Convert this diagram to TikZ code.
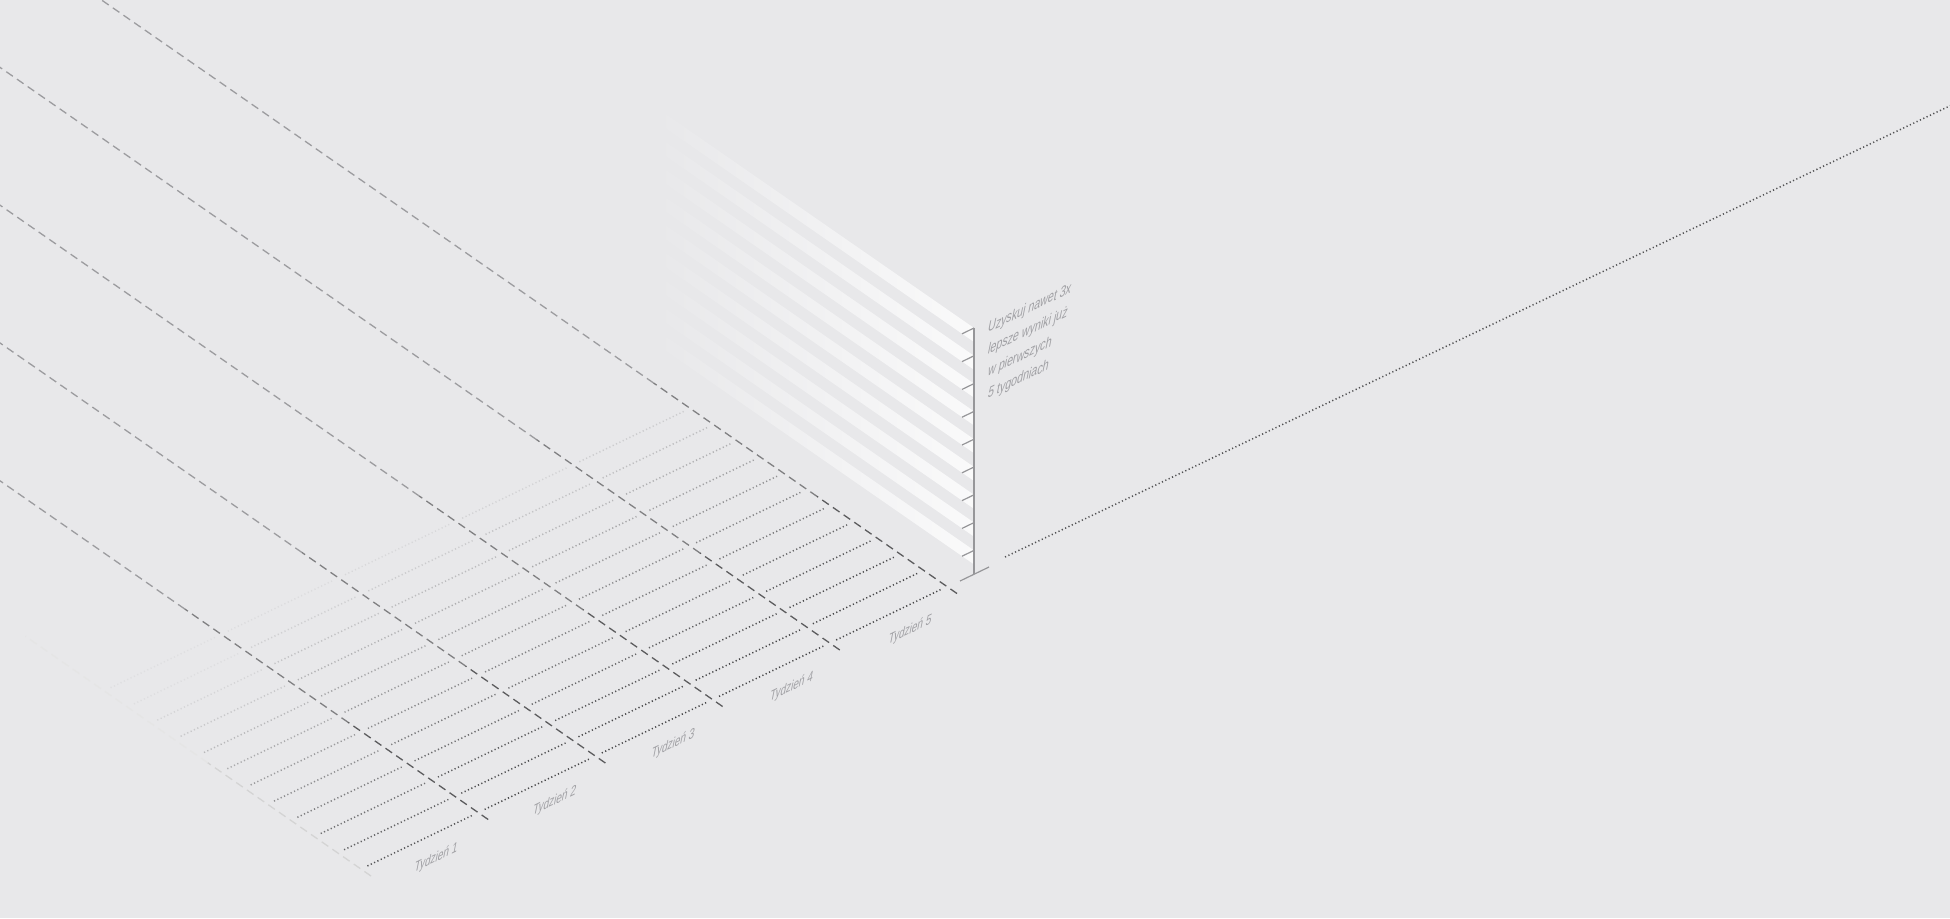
\documentclass[tikz,border=0pt]{standalone}
\usepackage{fontspec}
\usetikzlibrary{calc,fadings}
\newfontfamily\chartfont{Liberation Sans}[FakeStretch=0.74]
\definecolor{bgc}{RGB}{232,232,234}
\definecolor{inkc}{RGB}{62,62,64}
\definecolor{textc}{RGB}{160,160,164}
\definecolor{axisc}{RGB}{150,150,153}
\definecolor{darkdash}{RGB}{92,92,94}
\definecolor{middash}{RGB}{128,128,130}
\definecolor{lightdash}{RGB}{156,156,159}
\tikzset{
  row/.style={draw=inkc,line width=0.75pt,dash pattern=on 0.6pt off 1.25pt},
  weekline/.style={line width=0.65pt,dash pattern=on 4pt off 2.5pt},
  band/.style={fill=white,fill opacity=0.8,path fading=west},
  tick/.style={draw=axisc,line width=0.6pt},
  axisline/.style={draw=axisc,line width=1pt},
  weeklabel/.style={text=textc,inner sep=0pt,font=\chartfont\fontsize{7.5}{9}\selectfont,cm={0.9,0.435,0.2,1,(0,0)}},
  walltext/.style={text=textc,inner sep=0pt,anchor=base west,font=\chartfont\fontsize{8}{11}\selectfont,cm={0.9,0.435,0.2,1,(0,0)}}
}
\begin{document}
\begin{tikzpicture}[x=0.5pt,y=-0.5pt]
\useasboundingbox (0,0) rectangle (1950,918);
\fill[bgc] (0,0) rectangle (1950,918);
\clip (0,0) rectangle (1950,918);
\fill[band] (974,328) -- (974,342) -- (647,115.2) -- (647,101.2) -- cycle;
\fill[band] (974,355.8) -- (974,369.8) -- (647,143) -- (647,129) -- cycle;
\fill[band] (974,383.6) -- (974,397.6) -- (647,170.8) -- (647,156.8) -- cycle;
\fill[band] (974,411.4) -- (974,425.4) -- (647,198.6) -- (647,184.6) -- cycle;
\fill[band] (974,439.2) -- (974,453.2) -- (647,226.4) -- (647,212.4) -- cycle;
\fill[band] (974,467) -- (974,481) -- (647,254.2) -- (647,240.2) -- cycle;
\fill[band] (974,494.8) -- (974,508.8) -- (647,282) -- (647,268) -- cycle;
\fill[band] (974,522.6) -- (974,536.6) -- (647,309.8) -- (647,295.8) -- cycle;
\fill[band] (974,550.4) -- (974,564.4) -- (647,337.6) -- (647,323.6) -- cycle;
\begin{scope}[shift={(371,876)},x={(58.6pt,28.25pt)},y={(-11.675pt,8.1pt)}]
\draw[weekline,draw=black!17] (0,0) -- (0,7);
\draw[weekline,draw=black!10] (0,7) -- (0,14.8);
\draw[weekline,draw=darkdash] (1,0) -- (1,6);
\draw[weekline,draw=middash] (1,6) -- (1,13);
\draw[weekline,draw=lightdash] (1,13) -- (1,40);
\draw[weekline,draw=darkdash] (2,0) -- (2,6);
\draw[weekline,draw=middash] (2,6) -- (2,13);
\draw[weekline,draw=lightdash] (2,13) -- (2,40);
\draw[weekline,draw=darkdash] (3,0) -- (3,6);
\draw[weekline,draw=middash] (3,6) -- (3,13);
\draw[weekline,draw=lightdash] (3,13) -- (3,40);
\draw[weekline,draw=darkdash] (4,0) -- (4,6);
\draw[weekline,draw=middash] (4,6) -- (4,13);
\draw[weekline,draw=lightdash] (4,13) -- (4,40);
\draw[weekline,draw=darkdash] (5,0) -- (5,6);
\draw[weekline,draw=middash] (5,6) -- (5,13);
\draw[weekline,draw=lightdash] (5,13) -- (5,40);
\draw[row,draw opacity=.87] (0.055,0.43) -- (0.945,0.43);
\draw[row,draw opacity=.79] (0.055,1.43) -- (0.945,1.43);
\draw[row,draw opacity=.70] (0.055,2.43) -- (0.945,2.43);
\draw[row,draw opacity=.62] (0.055,3.43) -- (0.945,3.43);
\draw[row,draw opacity=.53] (0.055,4.43) -- (0.945,4.43);
\draw[row,draw opacity=.45] (0.055,5.43) -- (0.945,5.43);
\draw[row,draw opacity=.36] (0.055,6.43) -- (0.945,6.43);
\draw[row,draw opacity=.28] (0.055,7.43) -- (0.945,7.43);
\draw[row,draw opacity=.19] (0.055,8.43) -- (0.945,8.43);
\draw[row,draw opacity=.11] (0.055,9.43) -- (0.945,9.43);
\draw[row,draw opacity=.06] (0.055,10.43) -- (0.945,10.43);
\draw[row,draw opacity=.05] (0.055,11.43) -- (0.945,11.43);
\draw[row,draw opacity=.95] (1.055,0.43) -- (1.945,0.43);
\draw[row,draw opacity=.90] (1.055,1.43) -- (1.945,1.43);
\draw[row,draw opacity=.82] (1.055,2.43) -- (1.945,2.43);
\draw[row,draw opacity=.73] (1.055,3.43) -- (1.945,3.43);
\draw[row,draw opacity=.65] (1.055,4.43) -- (1.945,4.43);
\draw[row,draw opacity=.56] (1.055,5.43) -- (1.945,5.43);
\draw[row,draw opacity=.48] (1.055,6.43) -- (1.945,6.43);
\draw[row,draw opacity=.39] (1.055,7.43) -- (1.945,7.43);
\draw[row,draw opacity=.31] (1.055,8.43) -- (1.945,8.43);
\draw[row,draw opacity=.22] (1.055,9.43) -- (1.945,9.43);
\draw[row,draw opacity=.14] (1.055,10.43) -- (1.945,10.43);
\draw[row,draw opacity=.07] (1.055,11.43) -- (1.945,11.43);
\draw[row,draw opacity=.95] (2.055,0.43) -- (2.945,0.43);
\draw[row,draw opacity=.94] (2.055,1.43) -- (2.945,1.43);
\draw[row,draw opacity=.85] (2.055,2.43) -- (2.945,2.43);
\draw[row,draw opacity=.77] (2.055,3.43) -- (2.945,3.43);
\draw[row,draw opacity=.68] (2.055,4.43) -- (2.945,4.43);
\draw[row,draw opacity=.60] (2.055,5.43) -- (2.945,5.43);
\draw[row,draw opacity=.51] (2.055,6.43) -- (2.945,6.43);
\draw[row,draw opacity=.43] (2.055,7.43) -- (2.945,7.43);
\draw[row,draw opacity=.34] (2.055,8.43) -- (2.945,8.43);
\draw[row,draw opacity=.26] (2.055,9.43) -- (2.945,9.43);
\draw[row,draw opacity=.17] (2.055,10.43) -- (2.945,10.43);
\draw[row,draw opacity=.09] (2.055,11.43) -- (2.945,11.43);
\draw[row,draw opacity=.95] (3.055,0.43) -- (3.945,0.43);
\draw[row,draw opacity=.95] (3.055,1.43) -- (3.945,1.43);
\draw[row,draw opacity=.89] (3.055,2.43) -- (3.945,2.43);
\draw[row,draw opacity=.80] (3.055,3.43) -- (3.945,3.43);
\draw[row,draw opacity=.72] (3.055,4.43) -- (3.945,4.43);
\draw[row,draw opacity=.63] (3.055,5.43) -- (3.945,5.43);
\draw[row,draw opacity=.55] (3.055,6.43) -- (3.945,6.43);
\draw[row,draw opacity=.46] (3.055,7.43) -- (3.945,7.43);
\draw[row,draw opacity=.38] (3.055,8.43) -- (3.945,8.43);
\draw[row,draw opacity=.29] (3.055,9.43) -- (3.945,9.43);
\draw[row,draw opacity=.21] (3.055,10.43) -- (3.945,10.43);
\draw[row,draw opacity=.12] (3.055,11.43) -- (3.945,11.43);
\draw[row,draw opacity=.95] (4.055,0.43) -- (4.945,0.43);
\draw[row,draw opacity=.95] (4.055,1.43) -- (4.945,1.43);
\draw[row,draw opacity=.92] (4.055,2.43) -- (4.945,2.43);
\draw[row,draw opacity=.84] (4.055,3.43) -- (4.945,3.43);
\draw[row,draw opacity=.75] (4.055,4.43) -- (4.945,4.43);
\draw[row,draw opacity=.67] (4.055,5.43) -- (4.945,5.43);
\draw[row,draw opacity=.58] (4.055,6.43) -- (4.945,6.43);
\draw[row,draw opacity=.50] (4.055,7.43) -- (4.945,7.43);
\draw[row,draw opacity=.41] (4.055,8.43) -- (4.945,8.43);
\draw[row,draw opacity=.33] (4.055,9.43) -- (4.945,9.43);
\draw[row,draw opacity=.24] (4.055,10.43) -- (4.945,10.43);
\draw[row,draw opacity=.16] (4.055,11.43) -- (4.945,11.43);
\end{scope}
\coordinate (base) at (974,574);
\coordinate (axtop) at (974,328);
\coordinate (baseL) at (960,581);
\coordinate (baseR) at (989,567);
\coordinate (trail) at (1005,557);
\coordinate (far) at (1960,101);
\draw[row,draw=inkc!90] (trail) -- (far);
\draw[axisline] (axtop) -- (base);
\draw[tick] (baseL) -- (baseR);
\draw[tick] (974,328) -- +(-12,5.8);
\draw[tick] (974,355.8) -- +(-12,5.8);
\draw[tick] (974,383.6) -- +(-12,5.8);
\draw[tick] (974,411.4) -- +(-12,5.8);
\draw[tick] (974,439.2) -- +(-12,5.8);
\draw[tick] (974,467) -- +(-12,5.8);
\draw[tick] (974,494.8) -- +(-12,5.8);
\draw[tick] (974,522.6) -- +(-12,5.8);
\draw[tick] (974,550.4) -- +(-12,5.8);
\node[walltext] (goal1) at (987,333) {Uzyskuj nawet 3x};
\node[walltext] (goal2) at (987,355) {lepsze wyniki już};
\node[walltext] (goal3) at (987,377) {w pierwszych};
\node[walltext] (goal4) at (987,399) {5 tygodniach};
\node[weeklabel] (week1) at (436,858) {Tydzień 1};
\node[weeklabel] (week2) at (554.5,801) {Tydzień 2};
\node[weeklabel] (week3) at (673,744) {Tydzień 3};
\node[weeklabel] (week4) at (791.5,687) {Tydzień 4};
\node[weeklabel] (week5) at (910,630) {Tydzień 5};
\end{tikzpicture}
\end{document}
